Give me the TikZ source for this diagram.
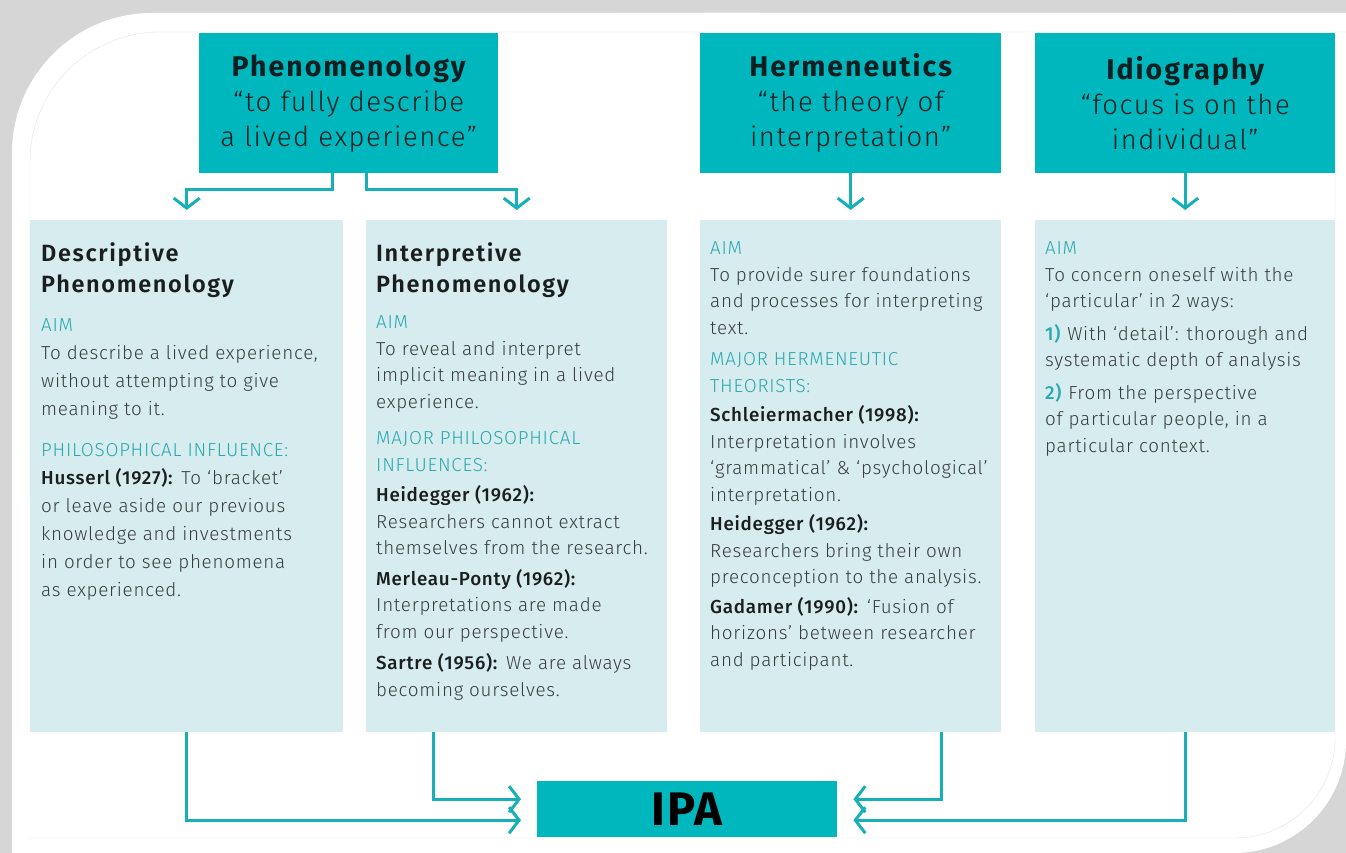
\documentclass[tikz,border=0pt]{standalone}
\usepackage{fontspec}
\setmainfont{Fira Sans}[UprightFont={* Light}, BoldFont={* Medium}, LetterSpace=4]
\newfontfamily\headfont{Fira Sans}[UprightFont={* SemiBold}, LetterSpace=7]
\newfontfamily\topheadfont{Fira Sans}[UprightFont={* Bold}, LetterSpace=7]
\newfontfamily\quotefont{Fira Sans}[UprightFont={* Light}, LetterSpace=5.5]
\newfontfamily\ipafont{Fira Sans}[UprightFont={* Bold}, LetterSpace=4]
\usetikzlibrary{arrows.meta,positioning}

\definecolor{ipateal}{HTML}{00B7BD}
\definecolor{ipalight}{HTML}{D6ECEE}
\definecolor{aimteal}{HTML}{2AA8B0}
\definecolor{linkteal}{HTML}{17B0B8}
\definecolor{bodyink}{HTML}{383D3E}
\definecolor{nameink}{HTML}{1A1E1F}
\definecolor{darkink}{HTML}{0A1F21}
\definecolor{frameline}{HTML}{E4E4E4}

\newcommand\aimlabel[1]{\textcolor{aimteal}{#1}}
\newcommand\who[1]{\textcolor{nameink}{\textbf{#1}}}
\newcommand\waynum[1]{\textcolor{aimteal}{\textbf{#1}}}

\begin{document}
\begin{tikzpicture}[x=1pt,y=-1pt,
    tophead/.style={fill=ipateal, text=darkink, inner sep=0pt, anchor=north west,
      minimum height=140pt, align=center, font=\quotefont\fontsize{27.5}{35}\selectfont},
    panel/.style={fill=ipalight, inner sep=0pt, anchor=north west, minimum height=512pt},
    paneltitle/.style={anchor=north west, inner sep=0pt, align=left, text=nameink,
      font=\headfont\fontsize{23.5}{31}\selectfont},
    paneltext/.style={anchor=north west, inner sep=0pt, align=left, text=bodyink,
      font=\fontsize{18.8}{26.5}\selectfont},
    link/.style={draw=linkteal, line width=3pt, -{Straight Barb[length=10pt,width=26pt]}}]
  \useasboundingbox (0,0) rectangle (1346,853);

  % frame
  \fill[black!16] (0,0) rectangle (1346,853);
  \fill[white, rounded corners=140pt] (12,13) rectangle (900,853);
  \fill[white, rounded corners=112pt] (500,13) rectangle (1346,853);
  \fill[white] (12,500) rectangle (700,853) (700,13) rectangle (1346,400);
  \draw[frameline, rounded corners=130pt] (30,500) -- (30,32) -- (1346,32);
  \draw[frameline, rounded corners=100pt] (1335,32) -- (1335,838) -- (30,838);

  % top boxes
  \node[tophead, minimum width=299pt] (phen) at (199,33)
    {{\topheadfont\fontsize{28.5}{35}\selectfont Phenomenology}\\“to fully describe\\a lived experience”};
  \node[tophead, minimum width=301pt] (herm) at (700,33)
    {{\topheadfont\fontsize{28.5}{35}\selectfont Hermeneutics}\\“the theory of\\interpretation”};
  \node[tophead, minimum width=300pt] (idio) at (1035,33)
    {{\topheadfont\fontsize{28.5}{35}\selectfont Idiography}\\“focus is on the\\individual”};

  % panels
  \node[panel, minimum width=313pt] (descbox) at (30,220) {};
  \node[panel, minimum width=301pt] (interpbox) at (366,220) {};
  \node[panel, minimum width=301pt] (hermbox) at (700,220) {};
  \node[panel, minimum width=300pt] (idiobox) at (1035,220) {};

  \node[paneltitle] (desctitle) at ([xshift=11pt,yshift=-22pt]descbox.north west)
    {Descriptive\\Phenomenology};
  \node[paneltext, font=\fontsize{18.8}{28}\selectfont] (desctext)
    at ([xshift=11pt,yshift=-98pt]descbox.north west) {%
    \aimlabel{AIM}\\
    To describe a lived experience,\\
    without attempting to give\\
    meaning to it.\\[13pt]
    \aimlabel{PHILOSOPHICAL INFLUENCE:}\\
    \who{Husserl (1927):} To ‘bracket’\\
    or leave aside our previous\\
    knowledge and investments\\
    in order to see phenomena\\
    as experienced.};

  \node[paneltitle] (interptitle) at ([xshift=10pt,yshift=-22pt]interpbox.north west)
    {Interpretive\\Phenomenology};
  \node[paneltext] (interptext) at ([xshift=10pt,yshift=-95.5pt]interpbox.north west) {%
    \aimlabel{AIM}\\
    To reveal and interpret\\
    implicit meaning in a lived\\
    experience.\\[10pt]
    \aimlabel{MAJOR PHILOSOPHICAL}\\
    \aimlabel{INFLUENCES:}\\[4pt]
    \who{Heidegger (1962):}\\
    Researchers cannot extract\\
    themselves from the research.\\[4pt]
    \who{Merleau-Ponty (1962):}\\
    Interpretations are made\\
    from our perspective.\\[5pt]
    \who{Sartre (1956):} We are always\\
    becoming ourselves.};

  \node[paneltext] (hermtext) at ([xshift=10pt,yshift=-21.5pt]hermbox.north west) {%
    \aimlabel{AIM}\\
    To provide surer foundations\\
    and processes for interpreting\\
    text.\\[5pt]
    \aimlabel{MAJOR HERMENEUTIC}\\
    \aimlabel{THEORISTS:}\\[3pt]
    \who{Schleiermacher (1998):}\\
    Interpretation involves\\
    ‘grammatical’ \& ‘psychological’\\
    interpretation.\\[3pt]
    \who{Heidegger (1962):}\\
    Researchers bring their own\\
    preconception to the analysis.\\[3pt]
    \who{Gadamer (1990):} ‘Fusion of\\
    horizons’ between researcher\\
    and participant.};

  \node[paneltext] (idiotext) at ([xshift=10pt,yshift=-21.5pt]idiobox.north west) {%
    \aimlabel{AIM}\\
    To concern oneself with the\\
    ‘particular’ in 2 ways:\\[6pt]
    \waynum{1)} With ‘detail’: thorough and\\
    systematic depth of analysis\\[6pt]
    \waynum{2)} From the perspective\\
    of particular people, in a\\
    particular context.};

  % result box
  \node[fill=ipateal, inner sep=0pt, anchor=north west, minimum width=300pt, minimum height=56pt,
    text=black, font=\ipafont\fontsize{47}{47}\selectfont] (ipa) at (537,781) {IPA};

  % arrows down from the top boxes
  \draw[link, shorten >=10pt] ([xshift=-16pt]phen.south) -- ++(0,16) -| (descbox.north);
  \draw[link, shorten >=10pt] ([xshift=18pt]phen.south) -- ++(0,16) -| (interpbox.north);
  \draw[link, shorten >=10pt] (herm.south) -- (herm.south |- hermbox.north);
  \draw[link, shorten >=10pt] (idio.south) -- (idio.south |- idiobox.north);

  % arrows into IPA
  \draw[link, shorten >=16pt] (descbox.south) |- ([yshift=-11pt]ipa.west);
  \draw[link, shorten >=16pt] ([xshift=-83pt]interpbox.south) |- ([yshift=10pt]ipa.west);
  \draw[link, shorten >=16pt] ([xshift=91pt]hermbox.south) |- ([yshift=10pt]ipa.east);
  \draw[link, shorten >=16pt] (idiobox.south) |- ([yshift=-11pt]ipa.east);
\end{tikzpicture}
\end{document}
